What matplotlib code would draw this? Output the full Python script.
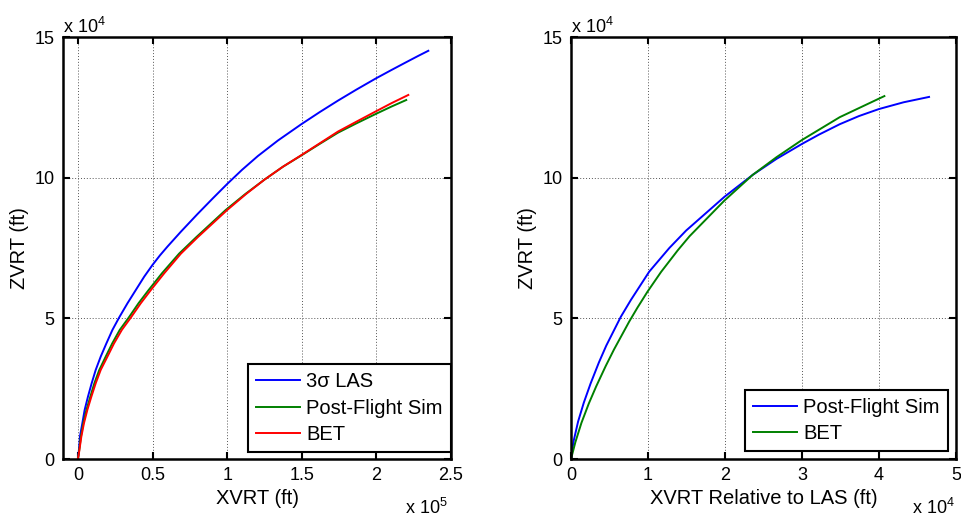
import numpy as np
import matplotlib
matplotlib.use("Agg")
import matplotlib.pyplot as plt
from matplotlib.ticker import FuncFormatter

plt.rcParams['font.family'] = ['Liberation Sans', 'DejaVu Sans']
plt.rcParams['mathtext.fontset'] = 'custom'
plt.rcParams['mathtext.rm'] = 'Liberation Sans'

# --- left panel: trajectory, ft ---
las_x = [0, 670, 1340, 2950, 4500, 6720, 9200, 11900, 15250, 19080, 23100,
         27550, 33200, 38800, 44400, 50000, 55000, 60000, 69000, 80000, 90300,
         99900, 110000, 120600, 134000, 149700, 162000, 174300, 186600, 199400,
         210200, 219100, 228100, 234800]
las_z = [0, 3200, 7930, 12690, 17420, 22150, 26900, 31640, 36370, 41100, 45860,
         50230, 55350, 60080, 64800, 69000, 72400, 75500, 80800, 87000, 92600,
         97700, 102800, 107700, 113200, 119000, 123300, 127400, 131300, 135200,
         138300, 140800, 143300, 145100]

sim_x = [0, 600, 2000, 3600, 5700, 8300, 11000, 14300, 18600, 23000, 28000,
         34000, 40600, 47400, 56300, 67800, 79200, 99000, 112200, 125000,
         137400, 149700, 162000, 174300, 186600, 199400, 210200, 220000]
sim_z = [0, 2030, 7930, 12690, 17420, 22150, 26900, 31640, 36370, 41100, 45860,
         50230, 55350, 60080, 66000, 73000, 78800, 88500, 94200, 99300,
         103900, 107900, 112000, 116000, 119300, 122600, 125300, 127600]

bet_x = [0, 670, 2280, 4030, 6300, 9000, 11900, 15250, 19750, 24200, 29400,
         35400, 42100, 48900, 57800, 69000, 80200, 100000, 112700, 125000,
         137400, 149700, 162000, 174300, 186600, 199400, 210200, 221400]
bet_z = [0, 2030, 7930, 12690, 17420, 22150, 26900, 31640, 36370, 41100, 45860,
         50230, 55350, 60080, 66000, 73000, 78800, 88500, 94200, 99300,
         103900, 108000, 112200, 116400, 119900, 123500, 126500, 129400]

# --- right panel: relative to LAS, ft ---
rel_sim_x = [0, 130, 350, 920, 1660, 2540, 3620, 4580, 6460, 7770, 10160,
             12770, 14950, 19930, 23600, 26700, 30000, 32200, 34900, 37400,
             40000, 43200, 46500]
rel_sim_z = [0, 2800, 6500, 13300, 20000, 26800, 34300, 40300, 50500, 56500,
             66600, 75000, 81200, 93200, 101000, 106700, 112000, 115300,
             119000, 121900, 124400, 126800, 128700]

rel_bet_x = [0, 570, 1350, 2310, 3270, 4500, 5580, 7550, 8630, 9940, 11700,
             13870, 15400, 19900, 23600, 26700, 30000, 34900, 40000, 40700]
rel_bet_z = [0, 6000, 12800, 19700, 25800, 33000, 38900, 48800, 53800, 59500,
             66500, 74200, 79200, 91800, 101000, 107300, 113400, 121500,
             128100, 129000]

W, H = 961, 518
fig = plt.figure(figsize=(W / 100, H / 100), dpi=100)

# axes rectangles from pixel edges (left 63/571, right 451/956, top 37, bottom 459)
ax1 = fig.add_axes([63 / W, 1 - 459 / H, (451 - 63) / W, (459 - 37) / H])
ax2 = fig.add_axes([571 / W, 1 - 459 / H, (956 - 571) / W, (459 - 37) / H])

blue, green, red = '#0000ff', '#008000', '#ff0000'
lw = 1.4

ax1.plot(las_x, las_z, color=blue, lw=lw, label='3σ LAS')
ax1.plot(sim_x, sim_z, color=green, lw=lw, label='Post-Flight Sim')
ax1.plot(bet_x, bet_z, color=red, lw=lw, label='BET')
ax1.set_xlim(-1e4, 2.5e5)
ax1.set_xticks([0, 0.5e5, 1e5, 1.5e5, 2e5, 2.5e5])
ax1.xaxis.set_major_formatter(FuncFormatter(lambda v, p: '%g' % (v / 1e5)))
ax1.set_xlabel('XVRT (ft)', fontsize=14.5, labelpad=3)

ax2.plot(rel_sim_x, rel_sim_z, color=blue, lw=lw, label='Post-Flight Sim')
ax2.plot(rel_bet_x, rel_bet_z, color=green, lw=lw, label='BET')
ax2.set_xlim(0, 5e4)
ax2.set_xticks([0, 1e4, 2e4, 3e4, 4e4, 5e4])
ax2.xaxis.set_major_formatter(FuncFormatter(lambda v, p: '%g' % (v / 1e4)))
ax2.set_xlabel('XVRT Relative to LAS (ft)', fontsize=14.5, labelpad=3)

for ax in (ax1, ax2):
    ax.set_ylim(0, 1.5e5)
    ax.set_yticks([0, 5e4, 10e4, 15e4])
    ax.yaxis.set_major_formatter(FuncFormatter(lambda v, p: '%g' % (v / 1e4)))
    ax.set_ylabel('ZVRT (ft)', fontsize=14.5, labelpad=4)
    ax.grid(True, linestyle=(0, (1, 2)), color='#555555', linewidth=0.7)
    ax.tick_params(direction='in', top=True, right=True, length=5, width=1.5,
                   labelsize=13, pad=6)
    for s in ax.spines.values():
        s.set_linewidth(1.8)

leg_kw = dict(loc='lower right', borderaxespad=0, fontsize=14.5, fancybox=False,
              framealpha=1, edgecolor='black', handlelength=2.2,
              handletextpad=0.3, labelspacing=0.36, borderpad=0.4)
l1 = ax1.legend(bbox_to_anchor=(1.0, 7 / 422), **leg_kw)
l2 = ax2.legend(bbox_to_anchor=(1 - 8 / 385, 8 / 422), **leg_kw)
for lg in (l1, l2):
    lg.get_frame().set_linewidth(1.5)

# MATLAB style exponent labels
fig.text(63 / W, 1 - 33 / H, r'x $\mathregular{10^4}$', fontsize=13, va='baseline')
fig.text(571 / W, 1 - 33 / H, r'x $\mathregular{10^4}$', fontsize=13, va='baseline')
fig.text(405 / W, 1 - 514 / H, r'x $\mathregular{10^5}$', fontsize=13, va='baseline')
fig.text(912 / W, 1 - 514 / H, r'x $\mathregular{10^4}$', fontsize=13, va='baseline')

fig.savefig('out.png', dpi=100)
